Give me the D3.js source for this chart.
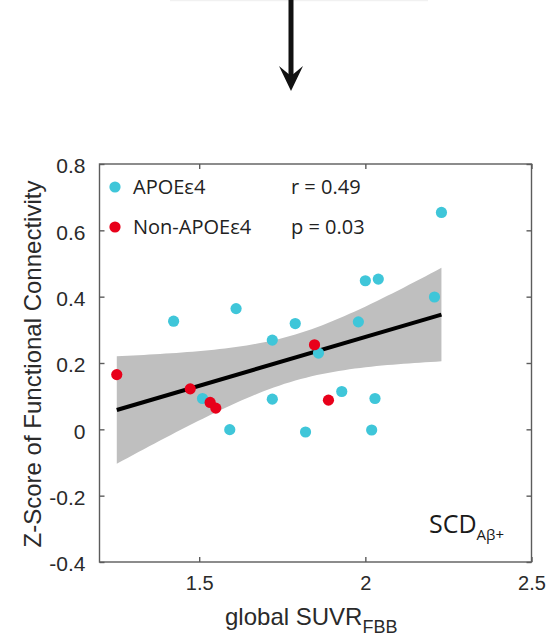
<!DOCTYPE html>
<html>
<head>
<meta charset="utf-8">
<script src="https://cdn.jsdelivr.net/npm/d3@7"></script>
<style>
  body { margin: 0; background: #fff; }
  svg { display: block; }
</style>
</head>
<body>
<div id="chart"></div>
<script>
// Chart size and plot box
var svgWidth = 549;
var svgHeight = 639;
var box = {left: 99.5, right: 531.5, top: 164, bottom: 562};

// Data
var apoeX = [1.423, 1.611, 1.789, 1.720, 1.510, 1.720, 1.592, 1.820, 1.859,
             1.929, 2.029, 2.019, 2.229, 2.000, 2.039, 2.208, 1.979];
var apoeY = [0.326, 0.364, 0.319, 0.269, 0.093, 0.091, -0.001, -0.008, 0.230,
             0.114, 0.093, -0.002, 0.654, 0.448, 0.453, 0.399, 0.324];
var nonX = [1.252, 1.473, 1.533, 1.550, 1.847, 1.889];
var nonY = [0.165, 0.122, 0.081, 0.064, 0.255, 0.088];

var xTicks = [1.5, 2, 2.5];
var yTicks = [-0.4, -0.2, 0, 0.2, 0.4, 0.6, 0.8];
var legendLabels = ["APOE\u03b54", "Non-APOE\u03b54"];
var statLabels = ["r = 0.49", "p = 0.03"];

var cyan = "#3fc6d9";
var red = "#e8001a";

var svg = d3.select("#chart").append("svg")
  .attr("width", svgWidth).attr("height", svgHeight);

// faint edge of the panel above + arrow
svg.append("line")
  .attr("x1", 170).attr("x2", 428).attr("y1", 0.5).attr("y2", 0.5)
  .attr("stroke", "#f1f1f1").attr("stroke-width", 1.5);
svg.append("line")
  .attr("x1", 291).attr("x2", 291).attr("y1", 0).attr("y2", 78)
  .attr("stroke", "#111").attr("stroke-width", 5);
svg.append("path")
  .attr("d", "M291,91 L279,66 L291,76 L303,66 Z")
  .attr("fill", "#111");

var x = d3.scaleLinear().domain([1.2, 2.5]).range([box.left, box.right]);
var y = d3.scaleLinear().domain([-0.4, 0.8]).range([box.bottom, box.top]);

// Linear fit and 95% confidence band from all points
var allX = apoeX.concat(nonX);
var allY = apoeY.concat(nonY);
var n = allX.length;
var mx = d3.mean(allX), my = d3.mean(allY);
var sxx = d3.sum(allX, d => (d - mx) * (d - mx));
var sxy = d3.sum(allX, (d, i) => (d - mx) * (allY[i] - my));
var slope = sxy / sxx;
var icpt = my - slope * mx;
var sse = d3.sum(allX, (d, i) => Math.pow(allY[i] - (icpt + slope * d), 2));
var s = Math.sqrt(sse / (n - 2));
var tCrit = 2.08; // t(0.975, df = 21)
var xMin = d3.min(allX), xMax = d3.max(allX);
var band = d3.range(0, 61).map(function(i) {
  var xv = xMin + (xMax - xMin) * i / 60;
  var fit = icpt + slope * xv;
  var h = tCrit * s * Math.sqrt(1 / n + (xv - mx) * (xv - mx) / sxx);
  return {x: xv, lo: fit - h, hi: fit + h};
});

svg.append("path")
  .datum(band)
  .attr("fill", "#bfbfbf")
  .attr("d", d3.area().x(d => x(d.x)).y0(d => y(d.lo)).y1(d => y(d.hi)));

svg.append("line")
  .attr("x1", x(xMin)).attr("y1", y(icpt + slope * xMin))
  .attr("x2", x(xMax)).attr("y2", y(icpt + slope * xMax))
  .attr("stroke", "#000").attr("stroke-width", 4);

// points
svg.selectAll("circle.apoe")
  .data(apoeX).enter().append("circle")
  .attr("class", "apoe")
  .attr("cx", d => x(d))
  .attr("cy", (d, i) => y(apoeY[i]))
  .attr("r", 5.6).attr("fill", cyan);

svg.selectAll("circle.non")
  .data(nonX).enter().append("circle")
  .attr("class", "non")
  .attr("cx", d => x(d))
  .attr("cy", (d, i) => y(nonY[i]))
  .attr("r", 5.6).attr("fill", red);

// box with inward ticks on all sides
var axisColor = "#5c5c5c";
svg.append("rect")
  .attr("x", box.left).attr("y", box.top)
  .attr("width", box.right - box.left).attr("height", box.bottom - box.top)
  .attr("fill", "none").attr("stroke", axisColor).attr("stroke-width", 1.4);

var plainFmt = d => String(d);
var xAxisB = d3.axisBottom(x).tickValues(xTicks).tickSizeInner(-5).tickSizeOuter(0)
  .tickPadding(14).tickFormat(plainFmt);
var gx = svg.append("g")
  .attr("transform", `translate(0, ${box.bottom})`)
  .call(xAxisB);
var gxTop = svg.append("g")
  .attr("transform", `translate(0, ${box.top})`)
  .call(d3.axisTop(x).tickValues(xTicks).tickSizeInner(-5).tickSizeOuter(0).tickFormat(""));

var yAxisL = d3.axisLeft(y).tickValues(yTicks).tickSizeInner(-5).tickSizeOuter(0)
  .tickPadding(14).tickFormat(plainFmt);
var gy = svg.append("g")
  .attr("transform", `translate(${box.left}, 0)`)
  .call(yAxisL);
var gyRight = svg.append("g")
  .attr("transform", `translate(${box.right}, 0)`)
  .call(d3.axisRight(y).tickValues(yTicks).tickSizeInner(-5).tickSizeOuter(0).tickFormat(""));

[gx, gxTop, gy, gyRight].forEach(function(g) {
  g.select(".domain").remove();
  g.selectAll(".tick line").attr("stroke", axisColor).attr("stroke-width", 1.4);
});
gx.selectAll(".tick text")
  .attr("font-family", "Liberation Sans, Arial, sans-serif")
  .attr("font-size", "20px").attr("fill", "#2a2a2a");
gy.selectAll(".tick text")
  .attr("font-family", "Liberation Sans, Arial, sans-serif")
  .attr("font-size", "21px").attr("fill", "#2a2a2a")
  .attr("dy", "0.42em");

// axis titles
var xt = svg.append("text")
  .attr("x", 225).attr("y", 625)
  .attr("font-family", "Liberation Sans, Arial, sans-serif")
  .attr("font-size", "24px").attr("fill", "#2a2a2a");
xt.append("tspan").text("global SUVR");
xt.append("tspan").attr("dy", 8).attr("font-size", "18px").text("FBB");

svg.append("text")
  .attr("transform", "translate(41, 364) rotate(-90)")
  .attr("text-anchor", "middle")
  .attr("font-family", "Liberation Sans, Arial, sans-serif")
  .attr("font-size", "24px").attr("fill", "#2a2a2a")
  .text("Z-Score of Functional Connectivity");

// legend and statistics
var legFont = "Open Sans, sans-serif";
var legRows = [{y: 187, c: cyan}, {y: 227, c: red}];
legRows.forEach(function(r, i) {
  svg.append("circle").attr("cx", 115).attr("cy", r.y).attr("r", 5.6).attr("fill", r.c);
  svg.append("text")
    .attr("x", 133).attr("y", r.y + 7)
    .attr("font-family", legFont).attr("font-size", "20px").attr("fill", "#222")
    .text(legendLabels[i]);
  svg.append("text")
    .attr("x", 291).attr("y", r.y + 7)
    .attr("font-family", legFont).attr("font-size", "20px").attr("fill", "#222")
    .text(statLabels[i]);
});

// group tag
var tag = svg.append("text")
  .attr("x", 429).attr("y", 533)
  .attr("font-family", legFont).attr("font-size", "25px").attr("fill", "#1a1a1a");
tag.append("tspan").text("SCD");
tag.append("tspan").attr("dy", 7).attr("font-size", "15px").text("A\u03b2+");
</script>
</body>
</html>
